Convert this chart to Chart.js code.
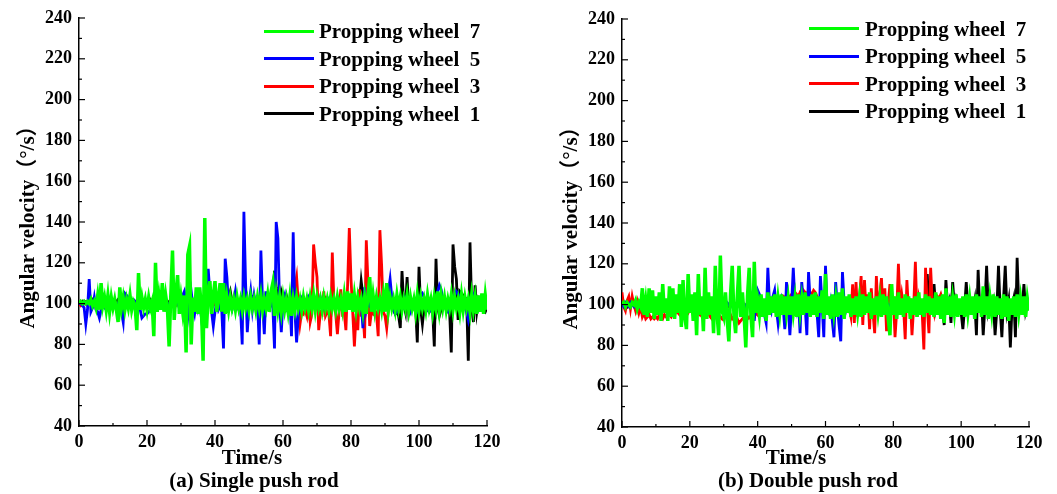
<!DOCTYPE html>
<html>
<head>
<meta charset="utf-8">
<script src="https://cdn.jsdelivr.net/npm/chart.js@4.4.1/dist/chart.umd.min.js"></script>
<style>
  body { margin: 0; background: #fff; }
  #page { position: relative; width: 1057px; height: 494px; overflow: hidden; font-family: "Liberation Serif", "Times New Roman", serif; }
  canvas { position: absolute; top: 0; }
  .txt { position: absolute; font-weight: bold; font-size: 21px; line-height: 24px; white-space: pre; color: #000; }
  .mid { transform: translateX(-50%); }
  .swatch { position: absolute; height: 3px; width: 50px; }
</style>
</head>
<body>
<div id="page">
  <canvas id="chartA" width="528" height="494" style="left:0;width:528px;height:494px"></canvas>
  <canvas id="chartB" width="517" height="494" style="left:540px;width:517px;height:494px"></canvas>
  <div class="txt mid" style="left:252px;top:445px">Time/s</div>
  <div class="txt mid" style="left:254px;top:468px">(a) Single push rod</div>
  <div class="txt mid" style="left:796px;top:445px">Time/s</div>
  <div class="txt mid" style="left:808px;top:468px">(b) Double push rod</div>
</div>
<script>
// sample times, 0.5 s apart
const time = Array.from({ length: 241 }, (_, i) => i / 2)

const labels = ['Propping wheel  7', 'Propping wheel  5', 'Propping wheel  3', 'Propping wheel  1']
const colors = ['#00ff00', '#0000ff', '#ff0000', '#000000']

// (a) single push rod, deg/s
const singleWheel7 = [
  100,101,100,101,100,101,100,102,99,101,98,104,97,110,99,103,97,104,96,103,
  98,102,97,91,108,98,103,97,102,98,104,97,101,99,87,115,97,103,98,102,
  97,103,98,101,84,120,96,104,97,110,96,104,98,79,104,126,92,105,114,95,
  103,96,104,76,124,128,80,103,96,108,95,108,98,72,142,88,104,111,95,104,
  111,96,103,110,96,110,95,103,97,103,98,102,97,103,98,102,97,103,98,102,
  97,103,98,102,97,103,98,104,97,102,98,104,96,106,110,94,104,97,103,96,
  103,97,102,96,103,94,102,97,103,98,102,97,103,98,102,97,103,98,104,97,
  103,98,102,97,103,98,102,97,103,98,102,97,103,98,102,97,104,96,106,97,
  105,96,104,97,103,98,102,96,103,95,104,113,96,104,97,103,98,102,97,104,
  96,110,97,103,98,102,97,104,98,103,97,102,98,104,97,103,98,102,96,104,
  97,103,98,102,97,104,98,102,96,103,98,106,97,104,98,103,97,102,98,104,
  97,103,98,102,96,104,97,103,98,102,96,104,97,103,95,104,96,105,95,104,
  97
]
const singleWheel5 = [
  100,100,99,98,90,97,112,96,98,103,97,96,93,97,99,98,100,99,98,100,
  99,100,98,100,99,96,91,105,104,103,103,102,102,101,101,100,97,93,94,95,
  95,96,97,98,99,100,99,101,100,99,101,100,99,100,98,100,99,101,100,98,
  100,104,106,100,93,100,106,99,95,101,97,100,93,99,95,100,117,105,96,89,
  96,101,97,99,96,78,122,113,98,99,97,101,106,99,97,98,80,145,110,86,
  99,106,97,104,99,101,80,126,100,85,106,98,97,101,99,78,140,132,100,86,
  101,104,97,96,103,84,135,96,81,94,99,102,99,101,100,103,101,99,102,100,
  101,99,103,100,98,101,100,102,99,100,101,99,103,100,101,99,102,100,101,99,
  100,102,99,101,100,98,101,88,108,97,101,99,100,98,101,100,99,101,100,99,
  101,100,106,112,103,97,95,96,99,101,99,98,103,102,98,96,100,102,101,96,
  97,104,105,103,99,97,96,98,97,100,103,106,109,107,102,99,97,96,97,100,
  102,104,106,105,103,101,100,98,96,92,97,101,104,102,99,97,99,101,98,99,
  100
]
const singleWheel3 = [
  100,99,100,101,100,99,100,101,100,99,100,101,100,99,100,101,100,99,100,101,
  100,101,100,99,100,101,100,99,100,101,100,99,100,101,100,99,100,101,100,99,
  100,99,100,101,100,99,100,101,100,99,100,101,100,99,100,101,100,99,100,101,
  100,101,100,99,100,101,100,99,100,101,100,99,100,101,100,99,100,101,100,99,
  100,99,100,101,100,99,100,101,100,99,100,101,100,99,100,101,100,99,100,101,
  100,101,100,99,100,101,100,99,100,101,100,99,100,101,100,99,100,101,100,99,
  100,99,100,101,100,99,101,108,113,100,90,96,95,97,94,104,91,95,129,120,
  113,87,96,95,106,94,96,95,84,125,100,95,85,96,107,95,96,87,109,137,
  112,96,79,95,87,107,95,96,83,131,110,89,96,95,97,95,84,136,119,96,
  94,88,97,99,100,101,100,99,100,101,100,99,100,101,100,99,100,101,100,99,
  100,101,100,99,100,101,100,99,100,101,100,99,100,101,100,99,100,101,100,99,
  100,99,100,101,100,99,100,101,100,99,100,101,100,99,100,101,100,99,100,101,
  100
]
const singleWheel1 = [
  100,100,101,100,101,101,100,101,102,101,101,100,101,102,101,100,101,101,102,101,
  101,100,101,102,101,101,102,101,101,100,101,102,101,101,100,101,102,101,101,100,
  101,101,102,101,100,101,101,102,101,100,101,101,100,101,102,101,101,100,101,101,
  102,101,100,101,101,100,102,101,100,101,101,102,100,101,101,100,102,101,100,101,
  101,102,100,101,103,101,100,101,103,106,101,99,101,102,100,101,103,101,102,100,
  101,102,103,101,100,102,101,103,102,100,101,102,101,103,104,116,108,102,101,106,
  103,101,104,101,102,100,101,102,100,101,100,99,101,100,99,101,100,102,100,99,
  101,100,99,101,100,102,99,101,100,99,101,100,102,99,100,101,99,100,101,100,
  99,101,100,99,102,101,111,104,99,100,101,99,100,101,100,99,101,100,99,100,
  101,100,99,100,98,97,95,96,94,88,116,100,96,113,95,98,97,99,98,81,
  118,97,90,98,99,97,96,98,97,79,122,98,94,97,98,100,99,97,96,76,
  129,118,112,92,106,105,104,103,102,72,130,98,91,109,96,102,100,98,97,96,
  98
]

// (b) double push rod, deg/s
const doubleWheel7 = [
  100,101,99,101,100,99,101,100,102,98,101,99,108,95,102,94,108,96,107,93,
  104,95,106,92,110,96,103,92,109,94,108,93,105,96,110,89,112,94,88,115,
  96,105,92,106,85,115,95,104,87,118,93,106,95,104,86,119,96,85,124,97,
  94,106,93,82,105,119,95,86,104,119,94,106,95,79,104,118,95,84,121,96,
  102,95,105,94,103,92,106,95,104,96,105,94,103,96,105,95,104,96,103,95,
  104,96,103,94,105,96,103,95,106,96,104,94,105,95,106,94,104,96,107,93,
  115,95,104,93,105,96,103,94,106,95,108,93,104,96,105,94,103,95,104,96,
  103,94,105,95,104,96,106,93,103,95,104,96,103,94,105,95,104,93,85,110,
  95,104,93,106,95,103,94,105,96,104,93,103,95,104,94,106,95,103,94,105,
  96,104,95,103,94,106,95,104,93,105,91,108,95,104,94,103,96,105,94,103,
  95,104,94,105,96,103,95,104,93,105,96,104,94,109,95,104,93,103,96,105,
  94,104,95,103,93,105,94,104,92,103,95,104,94,105,96,103,95,104,94,103,
  97
]
const doubleWheel5 = [
  100,99,101,100,99,101,100,99,101,100,99,101,100,99,101,100,99,101,100,99,
  101,100,99,101,100,99,101,100,99,101,100,99,101,100,99,101,100,99,101,100,
  99,101,100,99,101,100,99,101,100,99,101,100,99,101,100,99,101,100,99,101,
  100,99,101,100,99,101,100,99,101,100,99,101,100,99,101,100,104,106,92,101,
  107,105,103,99,95,91,118,100,97,104,107,98,91,100,103,99,88,111,99,85,
  100,118,101,97,103,86,111,100,99,85,116,101,97,99,98,96,84,114,100,84,
  119,98,96,101,92,84,111,99,90,82,116,101,97,100,99,101,100,99,101,100,
  99,101,100,99,101,100,99,101,100,99,101,100,99,101,100,99,101,100,99,101,
  100,99,101,100,99,101,100,99,101,100,99,101,100,99,101,100,99,101,100,99,
  101,100,99,101,100,99,101,100,99,101,100,99,101,100,99,101,100,99,101,100,
  99,101,100,99,101,100,99,101,100,99,101,100,99,101,100,99,101,100,99,101,
  100,99,101,100,99,101,100,99,101,100,99,101,100,99,101,100,99,101,100,99,
  100
]
const doubleWheel3 = [
  106,99,97,102,104,98,104,100,97,101,96,99,94,96,93,94,95,93,94,93,
  94,93,95,94,93,95,94,96,95,94,96,95,97,96,95,97,96,98,97,96,
  98,97,96,98,97,96,95,97,96,94,95,96,94,93,95,94,93,95,94,93,
  95,94,93,94,95,93,94,92,93,91,92,93,94,92,93,94,93,95,94,96,
  95,97,96,98,97,99,98,100,99,101,100,102,101,103,102,104,103,105,104,104,
  105,104,106,105,104,106,105,107,106,105,107,106,105,107,106,104,102,101,100,101,
  100,102,101,100,102,101,100,102,101,99,103,101,102,100,98,94,110,91,111,94,
  103,114,90,112,96,105,88,108,96,86,114,97,104,113,95,108,87,101,110,96,
  104,84,97,120,98,105,99,83,112,96,103,85,99,121,94,103,98,96,78,118,
  99,86,118,100,96,105,104,103,105,102,101,100,99,101,100,99,101,100,99,101,
  100,99,101,100,99,101,100,99,101,100,99,101,100,99,101,100,99,101,100,99,
  101,100,99,101,100,99,101,100,99,101,100,99,101,100,99,101,100,99,101,100,
  100
]
const doubleWheel1 = [
  100,101,100,99,101,100,101,100,99,101,100,101,100,99,101,100,101,100,99,101,
  100,101,100,99,101,100,101,100,99,101,100,101,100,99,101,100,101,100,99,101,
  100,101,100,99,101,100,101,100,99,101,100,101,100,99,101,100,101,100,99,101,
  100,101,100,99,101,100,101,100,99,101,100,101,100,99,101,100,101,100,99,101,
  100,101,100,99,101,100,101,100,99,101,100,101,100,99,101,100,101,100,99,101,
  100,101,100,99,101,100,101,100,99,101,100,101,100,99,101,100,101,100,99,101,
  100,101,100,99,101,100,101,100,99,101,100,101,100,99,101,100,101,100,99,101,
  100,101,100,99,101,100,101,100,99,101,100,101,100,99,101,100,101,100,99,101,
  100,101,100,99,101,100,99,101,100,99,101,100,101,99,100,101,100,101,102,101,
  115,97,103,99,110,98,102,99,101,98,90,112,99,102,91,111,99,103,100,97,
  96,88,98,111,98,103,99,97,102,85,117,97,103,85,99,119,98,103,97,101,
  85,97,119,98,84,103,119,97,102,79,99,103,84,123,99,100,98,110,97,101,
  99
]

const font = { family: '"Liberation Serif", "Times New Roman", "Noto Sans CJK SC", serif', weight: 'bold' }

// inward major + minor ticks on the two axes
const innerTicks = {
  id: 'innerTicks',
  afterDraw(chart) {
    const { ctx, chartArea: area } = chart
    ctx.save()
    ctx.strokeStyle = '#000'
    ctx.lineWidth = 1.2
    const mark = (scale, v, len) => {
      const p = scale.getPixelForValue(v)
      ctx.beginPath()
      if (scale.isHorizontal()) {
        ctx.moveTo(p, area.bottom)
        ctx.lineTo(p, area.bottom - len)
      } else {
        ctx.moveTo(area.left, p)
        ctx.lineTo(area.left + len, p)
      }
      ctx.stroke()
    }
    ;[chart.scales.x, chart.scales.y].forEach(scale => {
      const vals = scale.ticks.map(t => t.value)
      vals.forEach((v, i) => {
        mark(scale, v, 6)
        if (i < vals.length - 1) mark(scale, (v + vals[i + 1]) / 2, 3)
      })
    })
    ctx.restore()
  }
}

const createChart = (id, series, box) => {
  const ctx = document.getElementById(id)
  return new Chart(ctx, {
    type: 'line',
    data: {
      datasets: series.map((values, k) => ({
        label: labels[k],
        borderColor: colors[k],
        backgroundColor: colors[k],
        borderWidth: k === 0 ? 3.5 : 2.8,
        fill: false,
        pointRadius: 0,
        tension: 0,
        data: values.map((v, i) => ({ x: time[i], y: v })),
      }))
    },
    options: {
      responsive: false,
      animation: false,
      devicePixelRatio: 1,
      layout: { padding: { top: box.top, right: box.right, left: 0, bottom: 0 } },
      plugins: { legend: { display: false }, tooltip: { enabled: false } },
      scales: {
        x: {
          type: 'linear',
          min: 0,
          max: 120,
          grid: { display: false, drawTicks: false },
          border: { display: true, color: '#000', width: 1.5 },
          ticks: { stepSize: 20, autoSkip: false, maxRotation: 0, padding: 6, color: '#000', font: { ...font, size: 18 } },
          afterFit: scale => { scale.height = box.xHeight },
        },
        y: {
          min: 40,
          max: 240,
          grid: { display: false, drawTicks: false },
          border: { display: true, color: '#000', width: 1.5 },
          ticks: { stepSize: 20, padding: 7, color: '#000', font: { ...font, size: 18 } },
          title: { display: true, text: 'Angular velocity（°/s）', color: '#000', font: { ...font, size: 21 }, padding: { top: box.titlePad, bottom: 0 } },
          afterFit: scale => { scale.width = box.yWidth },
        }
      }
    },
    plugins: [innerTicks]
  })
}

const buildLegend = (chart, lineX, textX, firstY, step) => {
  const page = document.getElementById('page')
  chart.data.datasets.forEach((ds, k) => {
    const y = firstY + k * step
    const sw = document.createElement('div')
    sw.className = 'swatch'
    sw.style.left = lineX + 'px'
    sw.style.top = (y - 1.5) + 'px'
    sw.style.background = ds.borderColor
    page.appendChild(sw)
    const tx = document.createElement('div')
    tx.className = 'txt'
    tx.style.left = textX + 'px'
    tx.style.top = (y - 12) + 'px'
    tx.textContent = ds.label
    page.appendChild(tx)
  })
}

const chartA = createChart('chartA', [singleWheel7, singleWheel5, singleWheel3, singleWheel1],
  { top: 18, right: 41, xHeight: 68, yWidth: 79, titlePad: 16 })
const chartB = createChart('chartB', [doubleWheel7, doubleWheel5, doubleWheel3, doubleWheel1],
  { top: 19, right: 28, xHeight: 67, yWidth: 82, titlePad: 19 })

buildLegend(chartA, 264, 319, 31, 27.5)
buildLegend(chartB, 809, 865, 28.5, 27.5)
</script>
</body>
</html>
